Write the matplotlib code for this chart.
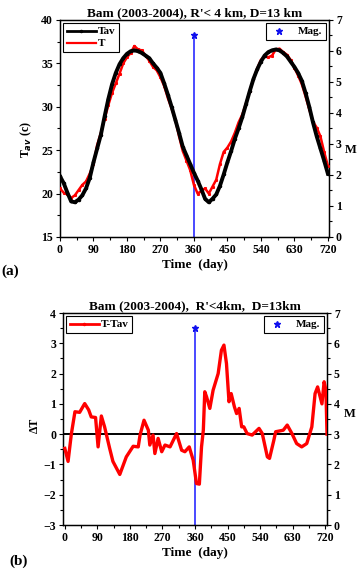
import numpy as np
import matplotlib
matplotlib.use("Agg")
import matplotlib.pyplot as plt
from matplotlib.lines import Line2D
from matplotlib.ticker import MultipleLocator

plt.rcParams['font.family'] = ['Liberation Serif', 'DejaVu Serif']
plt.rcParams['font.weight'] = 'bold'
plt.rcParams['axes.labelweight'] = 'bold'
plt.rcParams['axes.titleweight'] = 'bold'

# ---- data ----
days = list(range(0, 721, 10))
tav = [22.0, 21.2, 20.1, 19.1, 19.0, 19.3, 19.8, 20.6, 21.8, 23.6,
       25.2, 26.8, 28.9, 30.9, 32.6, 33.9, 34.9, 35.6, 36.1, 36.4,
       36.5, 36.4, 36.2, 35.9, 35.6, 35.0, 34.5, 33.9, 32.7, 31.4,
       30.0, 28.5, 27.0, 25.4, 24.4, 23.4, 22.4, 21.5, 20.5, 19.4,
       19.0, 19.4, 19.9, 20.9, 22.2, 23.6, 24.9, 26.3, 27.5, 28.8,
       30.3, 31.8, 33.2, 34.3, 35.2, 35.9, 36.3, 36.5, 36.6, 36.5,
       36.2, 35.8, 35.2, 34.6, 33.9, 33.0, 31.6, 30.0, 28.2, 26.6,
       25.2, 23.8, 22.3]
temp = [20.6, 20.1, 19.9, 19.5, 19.8, 20.4, 21.0, 21.4, 22.3, 23.4,
        25.6, 27.0, 28.6, 30.2, 31.6, 32.7, 33.8, 35.0, 35.7, 36.2,
        37.0, 36.6, 36.5, 35.9, 35.3, 34.6, 34.2, 33.4, 32.4, 31.0,
        29.8, 28.5, 26.6, 24.9, 23.8, 22.7, 21.0, 20.0, 20.3, 20.6,
        20.0, 20.8, 21.6, 23.4, 24.8, 25.3, 26.0, 27.0, 28.2, 29.1,
        30.4, 31.8, 33.2, 34.4, 35.4, 35.8, 35.7, 35.9, 36.6, 36.7,
        36.3, 36.0, 35.4, 34.5, 33.6, 32.6, 31.2, 29.7, 28.3, 27.6,
        26.6, 24.8, 23.2]

days_b = [0, 9, 18, 28, 41, 55, 66, 73, 85, 92, 101, 110, 124, 133, 152, 170,
          189, 203, 208, 219, 231, 235, 244, 249, 258, 268, 277, 291, 309, 323,
          332, 344, 355, 364, 372, 378, 383, 387, 392, 401, 410, 424, 433, 440,
          447, 454, 460, 469, 475, 482, 489, 495, 504, 518, 537, 546, 560, 566,
          578, 583, 604, 615, 628, 641, 655, 669, 683, 692, 699, 711, 717, 722, 725]
dT = [-0.47, -0.9, 0.0, 0.74, 0.72, 1.01, 0.8, 0.57, 0.55, -0.42, 0.6, 0.24,
      -0.47, -0.9, -1.33, -0.75, -0.4, -0.42, -0.03, 0.46, 0.13, -0.36, -0.03,
      -0.64, -0.14, -0.58, -0.36, -0.42, 0.02, -0.53, -0.58, -0.42, -0.86,
      -1.63, -1.65, -0.42, 0.13, 1.4, 1.23, 0.85, 1.45, 2.0, 2.77, 2.94, 2.33,
      1.07, 1.34, 0.9, 0.68, 0.85, 0.24, 0.24, 0.02, -0.03, 0.19, 0.02, -0.75,
      -0.8, -0.2, 0.08, 0.13, 0.3, 0.02, -0.31, -0.42, -0.31, 0.24, 1.34, 1.56,
      1.0, 1.73, 1.45, 0.0]

eq_day = [360]
eq_mag = [6.5]
xticks = [0, 90, 180, 270, 360, 450, 540, 630, 720]

fig = plt.figure(figsize=(3.57, 5.69), dpi=100)
ax1 = fig.add_axes([0.168, 0.5835, 0.7535, 0.3814])
ax3 = fig.add_axes([0.1765, 0.0773, 0.7395, 0.3726])


def style(ax, xmin, xmax):
    ax.set_xlim(xmin, xmax)
    ax.set_xticks(xticks)
    ax.xaxis.set_minor_locator(MultipleLocator(45))
    ax.tick_params(axis='both', which='both', direction='out', labelsize=8.5,
                   width=0.8, top=False, pad=2)
    ax.tick_params(which='major', length=3)
    ax.tick_params(which='minor', length=2)
    for s in ax.spines.values():
        s.set_linewidth(1.0)
    ax.set_xlabel('Time  (day)', fontsize=9.5, labelpad=2)


def mag_axis(ax):
    axm = ax.twinx()
    axm.set_ylim(0, 7)
    axm.yaxis.set_major_locator(MultipleLocator(1))
    axm.yaxis.set_minor_locator(MultipleLocator(0.5))
    axm.tick_params(which='both', direction='out', labelsize=8.5, width=0.8, pad=2)
    axm.tick_params(which='major', length=3)
    axm.tick_params(which='minor', length=2)
    for d, m in zip(eq_day, eq_mag):
        axm.plot([d, d], [0, m], color='#3a3aff', lw=1.3, zorder=1)
    axm.plot(eq_day, eq_mag, '*', color='#1010ee', ms=4.5, zorder=2)
    axm.set_ylabel('M', rotation=0, fontsize=9)
    leg = axm.legend([Line2D([], [], ls='none', marker='*', color='#1010ee', ms=4.5)],
                     ['Mag.'], loc='upper right', fontsize=8, frameon=True,
                     fancybox=False, edgecolor='black', framealpha=1,
                     handlelength=1.8, borderpad=0.3, borderaxespad=0.3)
    leg.get_frame().set_linewidth(0.8)
    return axm


# ---- panel (a) ----
ax1.plot(days, temp, color='red', lw=1.8, marker='s', ms=1.2, zorder=3)
ax1.plot(days, tav, color='black', lw=2.8, marker='o', ms=1.5, zorder=4)
ax1.set_ylim(15, 40)
ax1.yaxis.set_major_locator(MultipleLocator(5))
ax1.yaxis.set_minor_locator(MultipleLocator(2.5))
style(ax1, 0, 723)
ax1.set_ylabel('T$_{av}$ (c)', fontsize=8.5)
ax1.yaxis.set_label_coords(-0.095, 0.45)
ax1.set_title("Bam (2003-2004), R'< 4 km, D=13 km", fontsize=9.5, pad=3)
leg = ax1.legend([Line2D([], [], color='black', lw=2, marker='o', ms=1.5),
                  Line2D([], [], color='red', lw=1.6)], ['Tav', 'T'],
                 loc='upper left', fontsize=8, fancybox=False, edgecolor='black',
                 framealpha=1, handlelength=2.6, borderpad=0.3, labelspacing=0.2,
                 handletextpad=0.2, borderaxespad=0.3)
leg.get_frame().set_linewidth(0.8)
axm1 = mag_axis(ax1)
axm1.yaxis.set_label_coords(1.08, 0.43)
ax1.set_zorder(axm1.get_zorder() + 1)
ax1.patch.set_visible(False)
fig.text(0.005, 0.517, '(a)', fontsize=11, weight='bold')

# ---- panel (b) ----
ax3.plot(days_b, dT, color='red', lw=2.4, zorder=3)
ax3.axhline(0, color='black', lw=1.4, zorder=2)
ax3.set_ylim(-3, 4)
ax3.yaxis.set_major_locator(MultipleLocator(1))
ax3.yaxis.set_minor_locator(MultipleLocator(0.5))
style(ax3, -5, 725)
ax3.set_ylabel('ΔT', fontsize=8.5)
ax3.yaxis.set_label_coords(-0.085, 0.47)
ax3.set_title("Bam (2003-2004),  R'<4km,  D=13km", fontsize=9.5, pad=3)
leg = ax3.legend([Line2D([], [], color='red', lw=2, marker='o', ms=1.5)], ['T-Tav'],
                 loc='upper left', fontsize=8, fancybox=False, edgecolor='black',
                 framealpha=1, handlelength=2.6, borderpad=0.3,
                 handletextpad=0.2, borderaxespad=0.3)
leg.get_frame().set_linewidth(0.8)
axm3 = mag_axis(ax3)
axm3.yaxis.set_label_coords(1.085, 0.55)
ax3.set_zorder(axm3.get_zorder() + 1)
ax3.patch.set_visible(False)
fig.text(0.025, 0.008, '(b)', fontsize=11, weight='bold')

fig.savefig('out.png', dpi=100)
